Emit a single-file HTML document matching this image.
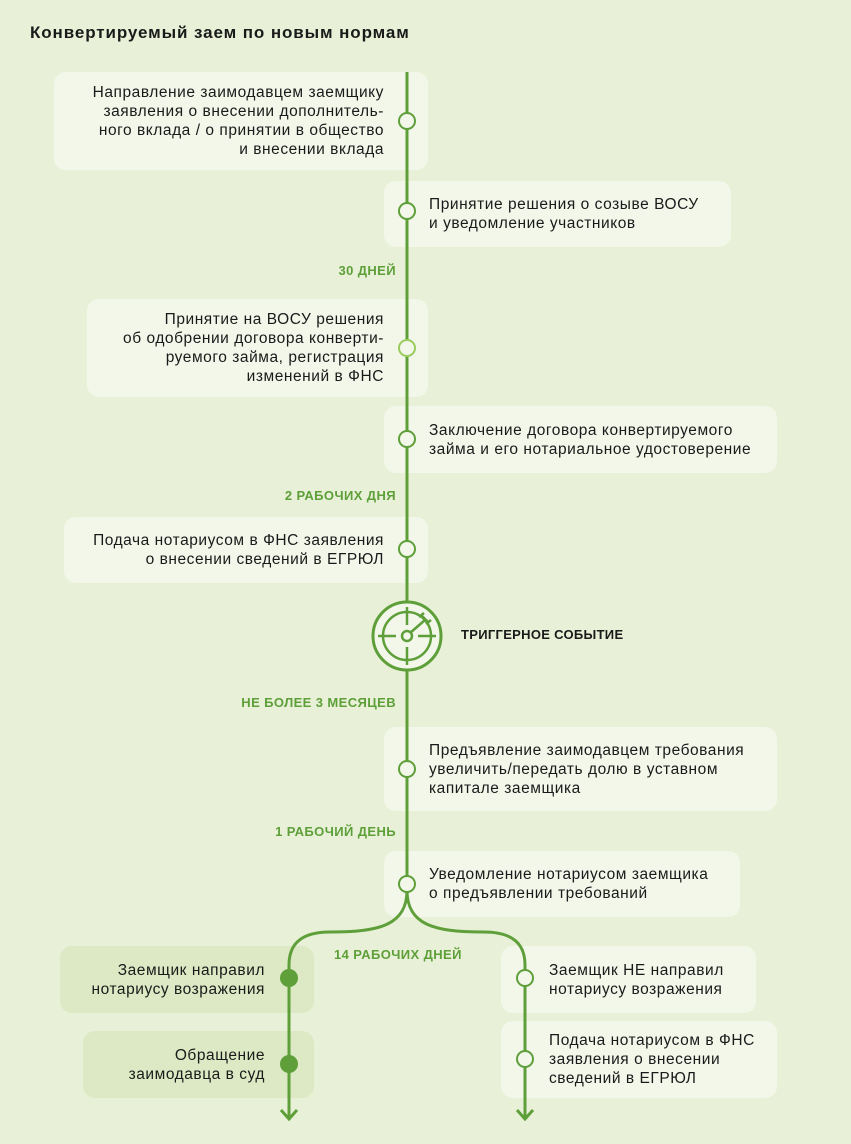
<!DOCTYPE html>
<html><head><meta charset="utf-8"><style>
body{margin:0;width:851px;height:1144px;background:#e8f1d7;font-family:"Liberation Sans",sans-serif;position:relative;overflow:hidden;color:#1a1a1a}
.b{position:absolute;background:#f2f7ea;border-radius:12px;font-size:15.5px;letter-spacing:0.55px;line-height:19px;box-sizing:border-box;display:flex;align-items:center;white-space:nowrap}
.r{justify-content:flex-end;text-align:right;padding-right:44px}
.l{padding-left:45px}
.d{background:#dce9c4}
.lab{position:absolute;font-size:13px;letter-spacing:0.4px;font-weight:bold;color:#5e9f3a}
svg{position:absolute;left:0;top:0}
</style></head><body>
<div style="position:absolute;left:30px;top:23px;font-size:17px;letter-spacing:0.9px;font-weight:bold">Конвертируемый заем по новым нормам</div>
<div class="b r" style="left:54px;top:72px;width:374px;height:98px">Направление заимодавцем заемщику<br>заявления о внесении дополнитель-<br>ного вклада / о принятии в общество<br>и внесении вклада</div>
<div class="b l" style="left:384px;top:181px;width:347px;height:66px">Принятие решения о созыве ВОСУ<br>и уведомление участников</div>
<div class="b r" style="left:87px;top:299px;width:341px;height:98px">Принятие на ВОСУ решения<br>об одобрении договора конверти-<br>руемого займа, регистрация<br>изменений в ФНС</div>
<div class="b l" style="left:384px;top:406px;width:393px;height:67px">Заключение договора конвертируемого<br>займа и его нотариальное удостоверение</div>
<div class="b r" style="left:64px;top:517px;width:364px;height:66px">Подача нотариусом в ФНС заявления<br>о внесении сведений в ЕГРЮЛ</div>
<div class="b l" style="left:384px;top:727px;width:393px;height:84px">Предъявление заимодавцем требования<br>увеличить/передать долю в уставном<br>капитале заемщика</div>
<div class="b l" style="left:384px;top:851px;width:356px;height:66px">Уведомление нотариусом заемщика<br>о предъявлении требований</div>
<div class="b r d" style="left:60px;top:946px;width:254px;height:67px;padding-right:49px">Заемщик направил<br>нотариусу возражения</div>
<div class="b r d" style="left:83px;top:1031px;width:231px;height:67px;padding-right:49px">Обращение<br>заимодавца в суд</div>
<div class="b l" style="left:501px;top:946px;width:255px;height:67px;padding-left:48px">Заемщик НЕ направил<br>нотариусу возражения</div>
<div class="b l" style="left:501px;top:1021px;width:276px;height:77px;padding-left:48px">Подача нотариусом в ФНС<br>заявления о внесении<br>сведений в ЕГРЮЛ</div>
<div class="lab" style="right:455px;top:263px">30 ДНЕЙ</div>
<div class="lab" style="right:455px;top:488px">2 РАБОЧИХ ДНЯ</div>
<div class="lab" style="right:455px;top:695px">НЕ БОЛЕЕ 3 МЕСЯЦЕВ</div>
<div class="lab" style="right:455px;top:824px">1 РАБОЧИЙ ДЕНЬ</div>
<div class="lab" style="left:334px;top:947px">14 РАБОЧИХ ДНЕЙ</div>
<div style="position:absolute;left:461px;top:627px;font-size:13px;letter-spacing:0.3px;font-weight:bold">ТРИГГЕРНОЕ СОБЫТИЕ</div>
<svg width="851" height="1144" fill="none" stroke="#5e9f3a" stroke-width="3">
<line x1="407" y1="72" x2="407" y2="890"/>
<path d="M407 890 C407 925 380 932 330 932 C300 932 289 945 289 965 L289 1118"/>
<path d="M407 890 C407 925 434 932 484 932 C514 932 525 945 525 965 L525 1118"/>
<path d="M281 1110 L289 1119 L297 1110"/>
<path d="M517 1110 L525 1119 L533 1110"/>
<g fill="#f2f7ea" stroke-width="2">
<circle cx="407" cy="121" r="8"/><circle cx="407" cy="211" r="8"/>
<circle cx="407" cy="348" r="8" stroke="#9acb5d"/><circle cx="407" cy="439" r="8"/>
<circle cx="407" cy="549" r="8"/><circle cx="407" cy="769" r="8"/>
<circle cx="407" cy="884" r="8"/><circle cx="525" cy="978" r="8"/><circle cx="525" cy="1059" r="8"/>
</g>
<circle cx="289" cy="978" r="9" fill="#5e9f3a" stroke="none"/>
<circle cx="289" cy="1064" r="9" fill="#5e9f3a" stroke="none"/>
<circle cx="407" cy="636" r="34" fill="#f2f7ea"/>
<circle cx="407" cy="636" r="24" stroke-width="2.5"/>
<circle cx="407" cy="636" r="5" stroke-width="2.5"/>
<g stroke-width="2.5"><line x1="407" y1="607" x2="407" y2="625"/><line x1="407" y1="647" x2="407" y2="665"/>
<line x1="378" y1="636" x2="396" y2="636"/><line x1="418" y1="636" x2="436" y2="636"/>
<line x1="410" y1="633" x2="425" y2="620"/><path d="M419 617 L424 613 M426 624 L431 620 M421 615 L428 622"/></g>
</svg>
</body></html>
